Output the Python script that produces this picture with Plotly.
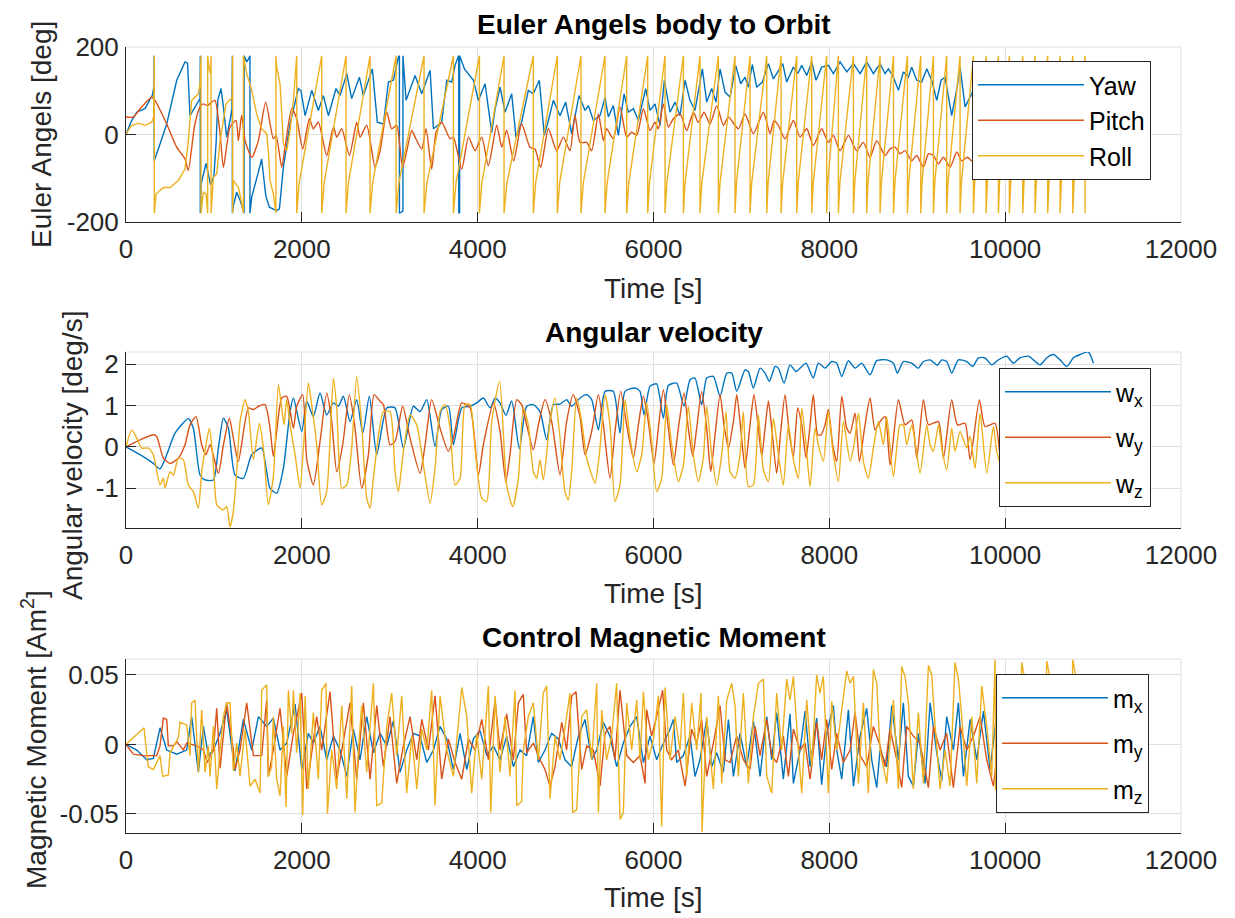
import plotly.graph_objects as go

# ---------------- data ----------------
TIME_TICKS = [0, 2000, 4000, 6000, 8000, 10000, 12000]

YAW = [(0, 0), (60, 30), (122, 51), (216, 59), (300, 90), (318, 110), (320, 180), (321, -60), (390, -20), (463, 24),
       (577, 124), (671, 166), (700, 163), (728, 43), (842, 82), (845, 180), (845, -180), (855, -113), (910, -66),
       (963, -115), (1000, -95), (1025, -20), (1045, 80), (1081, 105), (1110, 60), (1145, -6), (1183, 32), (1205, 60),
       (1210, 180), (1210, -180), (1221, -163), (1259, -132), (1297, -150), (1340, -175), (1343, -180), (1343, 180),
       (1373, 166), (1400, 175), (1410, 180), (1410, -180), (1430, -143), (1500, -90), (1543, -56), (1590, -140),
       (1631, -166), (1714, -174), (1745, -170), (1790, -75), (1866, 24), (1960, 105), (1990, 100), (2037, 43),
       (2113, 101), (2188, 55), (2245, 89), (2302, 43), (2389, 105), (2435, 89), (2511, 139), (2567, 82), (2655, 131),
       (2700, 89), (2802, 150), (2859, 28), (2928, 24), (2985, 120), (3041, 124), (3098, 177), (3110, 180),
       (3110, -180), (3150, -175), (3150, 180), (3186, 78),
       (3288, 135), (3364, 93), (3459, 147), (3497, 13), (3591, 28), (3648, 124), (3705, 120), (3743, 158),
       (3781, 179), (3785, 180), (3785, -180), (3795, -178), (3795, 180), (3850, 150), (3952, 124), (4008, 78),
       (4084, 116), (4141, 36), (4160, 5), (4200, 60), (4255, 108), (4311, 51), (4387, 93), (4436, -6), (4500, 28),
       (4576, 101), (4633, 93), (4701, 124), (4758, -2), (4804, 32), (4861, 78), (4937, 43), (5001, 74), (5069, 2),
       (5153, 89), (5221, 55), (5259, 66), (5316, 32), (5392, 43), (5449, 85), (5486, 40), (5543, 66), (5600, -2),
       (5665, 93), (5714, 51), (5771, 59), (5828, 32), (5911, 105), (5960, 55), (6017, 70), (6074, 21), (6123, 124),
       (6188, 51), (6245, 74), (6302, 43), (6359, 124), (6415, 78), (6472, 55), (6556, 150), (6605, 74), (6662, 105),
       (6711, 74), (6757, 150), (6814, 97), (6871, 85), (6935, 158), (6992, 116), (7041, 131), (7079, 108),
       (7124, 160), (7174, 108), (7238, 120), (7307, 162), (7364, 127), (7409, 143), (7470, 162), (7515, 120),
       (7591, 154), (7640, 139), (7686, 158), (7743, 135), (7800, 166), (7849, 124), (7913, 154), (7989, 158),
       (8046, 139), (8122, 166), (8198, 143), (8274, 162), (8350, 139), (8425, 166), (8501, 139), (8577, 162),
       (8634, 139), (8672, 150), (8729, 131), (8786, 101), (8842, 143), (8899, 131), (8937, 154), (8994, 124),
       (9051, 120), (9108, 150), (9165, 124), (9222, 78), (9271, 124), (9316, 131), (9392, 43), (9457, 112),
       (9487, 154), (9544, 63), (9620, 93), (9700, 140), (9800, 100), (9900, 145), (10000, 90), (10150, 140),
       (10300, 100), (10450, 145), (10600, 105), (10750, 140), (10900, 110), (11000, 130)]

PITCH = [(0, 40), (84, 40), (160, 59), (292, 85), (330, 78), (463, 24), (577, -29), (671, -56), (709, -82), (780, 20),
         (842, 63), (880, 70), (925, 66), (975, 74), (1013, 78), (1070, 2), (1108, -75), (1183, 17), (1252, 32),
         (1278, -14), (1316, 44), (1354, -14), (1430, -52), (1506, -14), (1589, 74), (1676, -10), (1707, -2),
         (1771, -75), (1809, -29), (1885, 59), (1942, 36), (2010, -33), (2086, 36), (2131, 13), (2188, 28),
         (2283, -48), (2359, 17), (2397, -6), (2454, 13), (2541, -48), (2624, 28), (2662, -6), (2738, 21),
         (2833, -75), (2890, -37), (2966, 51), (3022, 13), (3079, 21), (3147, -75), (3250, 9), (3288, -6),
         (3364, -33), (3413, 13), (3477, -79), (3527, 5), (3591, 28), (3686, -10), (3724, -6), (3819, -79),
         (3895, -6), (3970, -37), (4046, -6), (4122, -71), (4217, 21), (4274, -29), (4330, 10), (4410, -60),
         (4500, 24), (4595, -29), (4652, -33), (4717, -75), (4804, 13), (4899, -37), (4975, -6), (5050, -37),
         (5107, 44), (5164, -18), (5240, -18), (5297, -37), (5373, 47), (5430, -14), (5467, 13), (5543, -10),
         (5619, 63), (5695, -6), (5752, 5), (5809, -2), (5885, 59), (5960, 9), (6017, 28), (6055, 13), (6112, 70),
         (6169, 17), (6226, 36), (6302, 47), (6378, 9), (6453, 51), (6510, 28), (6575, 51), (6643, 24), (6719, 66),
         (6795, 21), (6852, 40), (6965, 13), (7041, 47), (7136, 2), (7250, 51), (7326, 2), (7371, 32), (7420, 21),
         (7496, -10), (7591, 32), (7667, -6), (7743, 13), (7818, -25), (7913, 13), (7989, -18), (8046, -2),
         (8122, -37), (8217, -2), (8311, -37), (8387, -18), (8463, -52), (8539, -14), (8634, -48), (8691, -33),
         (8748, -29), (8805, -44), (8861, -37), (8937, -60), (8994, -48), (9070, -75), (9127, -44), (9184, -48),
         (9241, -67), (9298, -52), (9373, -75), (9449, -40), (9506, -60), (9571, -52), (9620, -60), (9700, -55),
         (9800, -70), (9900, -60), (10000, -75), (10200, -65), (10400, -78), (10600, -68), (10800, -80),
         (11000, -72)]

ROLL = [(0, 0), (60, 20), (141, 26), (216, 21), (292, 28), (315, 40), (322, 180), (322, -180), (342, -136),
        (425, -121), (501, -121), (596, -105), (671, -79), (709, -14), (747, 78), (823, 93), (845, 120), (853, 180),
        (853, -180), (880, -132), (910, -136), (929, -180), (929, 180), (948, 147), (963, 139), (968, 180),
        (968, -180), (994, -98), (1032, -90), (1070, -14), (1138, 70), (1183, 78), (1210, 85), (1213, 180),
        (1213, -180), (1221, -105), (1278, -121), (1300, -140), (1335, -180), (1335, 180), (1373, 139), (1430, 101),
        (1486, 47), (1543, 13), (1600, 2), (1619, -37), (1638, -105), (1676, -136), (1705, -180), (1705, 180),
        (1714, 154), (1752, 116), (1771, 50), (1790, -21), (1828, -37), (1866, 9), (1904, 78),
        (1942, 180), (1942, -180), (1970, -110), (2226, 180), (2226, -180), (2254, -110),
        (2503, 180), (2503, -180), (2530, -110), (2776, 180), (2776, -180), (2806, -110),
        (3072, 180), (3072, -180), (3104, -110), (3390, 180), (3390, -180), (3423, -110),
        (3724, 180), (3724, -180), (3754, -110), (4020, 180), (4020, -180), (4048, -110),
        (4300, 180), (4300, -180), (4333, -110), (4633, 180), (4633, -180), (4660, -110),
        (4906, 180), (4906, -180), (4933, -110), (5175, 180), (5175, -180), (5202, -110),
        (5448, 180), (5448, -180), (5473, -110), (5695, 180), (5695, -180), (5719, -110),
        (5934, 180), (5934, -180), (5954, -110), (6131, 180), (6131, -180), (6152, -110),
        (6340, 180), (6340, -180), (6359, -110), (6529, 180), (6529, -180), (6550, -110),
        (6738, 180), (6738, -180), (6757, -110), (6927, 180), (6927, -180), (6944, -110),
        (7098, 180), (7098, -180), (7117, -110), (7288, 180), (7288, -180), (7304, -110),
        (7451, 180), (7451, -180), (7469, -110), (7629, 180), (7629, -180), (7646, -110),
        (7800, 180), (7800, -180), (7817, -110), (7970, 180), (7970, -180), (7983, -110),
        (8103, 180), (8103, -180), (8120, -110), (8274, 180), (8274, -180), (8289, -110),
        (8425, 180), (8425, -180), (8440, -110), (8577, 180), (8577, -180), (8592, -110),
        (8730, 180), (8730, -180), (8746, -110), (8888, 180), (8888, -180), (8903, -110),
        (9040, 180), (9040, -180), (9054, -110), (9184, 180), (9184, -180), (9199, -110),
        (9335, 180), (9335, -180), (9350, -110), (9487, 180), (9487, -180), (9502, -110),
        (9639, 180), (9639, -180), (9653, -110), (9783, 180), (9783, -180), (9797, -110),
        (9923, 180), (9923, -180), (9936, -110), (10048, 180), (10048, -180), (10063, -110),
        (10200, 180), (10200, -180), (10214, -110), (10340, 180), (10340, -180), (10354, -110),
        (10484, 180), (10484, -180), (10498, -110), (10625, 180), (10625, -180), (10639, -110),
        (10769, 180), (10769, -180), (10783, -110), (10909, 180), (10909, -180)]

WX = [(0, 0), (160, -0.19), (311, -0.40), (387, -0.53), (463, -0.19), (558, 0.33), (709, 0.68), (766, 0.45),
      (842, -0.68), (899, -0.80), (994, -0.80), (1051, -0.03), (1108, 0.69), (1165, 0.45), (1240, -0.68),
      (1335, -0.76), (1430, -0.19), (1544, -0.03), (1638, -1.0), (1714, -1.12), (1790, -0.52), (1866, 0.85),
      (1904, 1.18), (1999, 0.37), (2056, 1.10), (2131, 0.73), (2207, 1.30), (2283, 0.77), (2359, 1.06),
      (2416, 0.98), (2473, 1.22), (2548, 0.61), (2624, 1.14), (2693, 0.33), (2768, 1.22), (2852, -0.19),
      (2966, 0.94), (3060, 0.94), (3155, -0.03), (3269, 0.98), (3345, 0.85), (3421, 1.14), (3515, 0.01),
      (3591, 0.90), (3667, 0.98), (3724, 0.05), (3819, 0.94), (3914, 0.98), (3989, 1.06), (4065, 1.18),
      (4141, 0.94), (4198, 1.18), (4254, 1.06), (4322, 0.76), (4387, 1.11), (4474, -0.05), (4557, 0.98),
      (4633, 1.02), (4709, 0.85), (4785, 0.17), (4861, 1.02), (4937, 1.03), (5012, 1.14), (5069, 0.98),
      (5164, 1.18), (5240, 1.26), (5297, 1.14), (5373, 0.41), (5449, 1.34), (5543, 1.34), (5619, 0.33),
      (5676, 1.34), (5790, 1.42), (5847, 1.34), (5892, 0.77), (5960, 1.46), (6036, 1.52), (6112, 0.69),
      (6169, 1.48), (6264, 1.54), (6347, 0.98), (6415, 1.62), (6472, 1.66), (6548, 1.02), (6605, 1.66),
      (6681, 1.70), (6757, 1.22), (6833, 1.78), (6890, 1.78), (6947, 1.34), (7041, 1.86), (7079, 1.82),
      (7136, 1.42), (7212, 1.90), (7269, 1.78), (7318, 1.58), (7383, 1.94), (7420, 1.90), (7485, 1.54),
      (7553, 1.98), (7621, 1.82), (7686, 1.94), (7735, 2.02), (7818, 1.66), (7875, 2.02), (7951, 1.90),
      (8027, 2.06), (8084, 2.02), (8141, 1.70), (8217, 2.08), (8293, 1.90), (8368, 2.02), (8463, 1.74),
      (8539, 2.08), (8653, 2.10), (8729, 2.02), (8774, 1.78), (8842, 2.06), (8937, 2.02), (9013, 1.90),
      (9070, 2.06), (9146, 2.10), (9229, 1.97), (9279, 2.10), (9335, 2.06), (9392, 1.78), (9468, 2.10),
      (9563, 2.06), (9631, 1.94), (9695, 2.15), (9771, 2.15), (9847, 1.98), (9923, 2.10), (10018, 2.19),
      (10093, 2.02), (10169, 2.15), (10264, 2.19), (10321, 2.10), (10397, 1.98), (10473, 2.15), (10549, 2.23),
      (10625, 2.10), (10700, 1.94), (10776, 2.15), (10852, 2.23), (10947, 2.29), (11004, 2.02)]

WY = [(0, 0), (160, 0.17), (311, 0.29), (349, 0.25), (425, -0.27), (501, -0.40), (596, -0.27), (671, 0.05),
      (728, 0.53), (797, 0.73), (861, 0.05), (910, -0.19), (956, 0.05), (1051, -0.64), (1108, 0.05), (1176, 0.69),
      (1221, 0.21), (1278, -0.35), (1392, 0.94), (1449, 0.90), (1506, 0.98), (1582, 1.02), (1638, 0.45),
      (1676, -0.23), (1714, 0.37), (1771, 1.18), (1828, 1.22), (1904, 0.45), (1942, 0.98), (2010, 1.26),
      (2056, -0.31), (2131, -0.92), (2207, 0.13), (2283, 1.30), (2340, 0.61), (2397, -0.60), (2465, 0.05),
      (2541, 1.26), (2605, 0.45), (2681, -1.0), (2757, -0.19), (2822, 1.26), (2890, 1.10), (2928, 1.02),
      (3003, 0.05), (3060, 0.13), (3147, 0.98), (3231, 0.21), (3345, -0.64), (3402, 0.05), (3477, 1.14),
      (3572, 0.45), (3667, -0.11), (3724, 0.21), (3819, 1.06), (3914, 0.94), (4008, -0.68), (4065, 0.05),
      (4179, 1.06), (4255, 0.37), (4320, -0.84), (4368, -0.19), (4444, 1.14), (4500, 1.02), (4557, 0.53),
      (4633, -0.07), (4690, 0.53), (4766, 1.14), (4842, 0.61), (4937, -0.68), (5012, 0.61), (5088, 1.26),
      (5164, 0.73), (5221, -0.19), (5297, 0.37), (5373, 1.26), (5430, 0.53), (5505, -0.76), (5562, 0.37),
      (5627, 1.34), (5695, 0.53), (5771, -0.27), (5828, 0.53), (5885, 1.22), (5941, 0.61), (6006, -0.40),
      (6055, 0.45), (6112, 1.38), (6169, 0.45), (6226, -0.44), (6283, 0.45), (6347, 1.30), (6396, 0.45),
      (6446, -0.23), (6491, 0.45), (6548, 1.34), (6605, 0.45), (6651, -0.60), (6700, 0.29), (6757, 1.26),
      (6802, 0.53), (6852, -0.03), (6909, 0.61), (6947, 1.26), (6992, 0.45), (7041, -0.52), (7098, 0.53),
      (7143, 1.26), (7193, 0.45), (7231, -0.23), (7269, 0.45), (7307, 1.11), (7345, 0.45), (7401, -0.64),
      (7447, 0.37), (7496, 1.26), (7546, 0.29), (7591, -0.23), (7640, 0.94), (7686, 0.53), (7735, -0.27),
      (7781, 0.53), (7818, 1.26), (7868, 0.29), (7906, 0.29), (7951, 0.53), (7989, 0.90), (8038, 0.05),
      (8084, -0.35), (8141, 1.22), (8198, 0.45), (8236, 0.33), (8293, 0.81), (8342, -0.35), (8406, 0.53),
      (8463, 1.18), (8520, 0.41), (8577, 0.61), (8634, 0.73), (8691, -0.44), (8786, 1.14), (8861, 0.53),
      (8937, 0.65), (8994, -0.27), (9070, 1.14), (9127, 0.53), (9241, 0.61), (9298, -0.27), (9392, 1.14),
      (9457, 0.53), (9544, 0.57), (9601, -0.31), (9707, 1.14), (9771, 0.49), (9885, 0.57), (9950, -0.3),
      (10030, 1.1), (10100, 0.5), (10200, 0.5), (10260, -0.3), (10350, 1.1), (10420, 0.5), (10520, 0.5),
      (10580, -0.3), (10680, 1.1), (10750, 0.5), (10850, 0.5), (10920, -0.3), (11000, 0.6)]

WZ = [(0, 0), (65, 0.41), (122, 0.21), (179, -0.03), (254, -0.03), (311, -0.19), (387, -0.92), (425, -0.76),
      (444, -1.0), (501, -0.60), (539, -0.68), (596, -0.27), (652, -0.31), (709, -0.92), (766, -1.08),
      (823, -1.48), (861, -0.60), (910, 0.05), (948, 0.45), (986, -0.19), (1032, -1.40), (1070, -1.48),
      (1108, -1.52), (1145, -1.44), (1183, -1.93), (1221, -1.56), (1259, -0.60), (1297, 0.61), (1354, 1.14),
      (1392, 0.85), (1449, -0.31), (1517, 0.57), (1563, -0.03), (1619, -1.40), (1676, -0.72), (1733, 1.50),
      (1771, 0.94), (1798, 0.53), (1828, 1.14), (1866, 0.53), (1923, -0.19), (1980, -1.0), (2025, 0.21),
      (2074, 1.54), (2112, 1.02), (2169, 0.05), (2226, -1.40), (2283, -1.08), (2359, 1.66), (2397, 0.94),
      (2454, -1.0), (2511, -0.92), (2567, -0.03), (2624, 1.70), (2681, 0.53), (2738, -1.24), (2776, -1.48),
      (2814, -0.76), (2928, 0.85), (3003, 0.85), (3060, -0.60), (3098, -1.08), (3155, -0.11), (3231, 0.77),
      (3307, 0.53), (3383, -0.44), (3459, -1.36), (3515, -0.52), (3572, 0.85), (3629, 1.02), (3686, 0.45),
      (3743, -0.92), (3800, -0.76), (3857, 1.02), (3914, 1.02), (3970, -0.03), (4046, -1.24), (4103, -1.32),
      (4160, 0.61), (4250, 1.58), (4330, -0.92), (4398, -1.44), (4463, -0.76), (4519, 0.94), (4576, 0.53),
      (4633, -0.60), (4671, -0.76), (4709, -0.31), (4747, -0.80), (4823, 0.61), (4880, 1.18), (4937, 0.21),
      (4993, -1.08), (5031, -1.28), (5069, -0.60), (5126, 1.18), (5183, 0.61), (5240, -0.27), (5285, -0.60),
      (5335, -0.88), (5384, -0.19), (5449, 1.26), (5505, 0.53), (5562, -1.32), (5619, -0.92), (5676, 1.14),
      (5733, 0.21), (5809, -0.60), (5866, -0.19), (5922, 1.06), (5979, 0.13), (6036, -1.08), (6093, -0.76),
      (6150, 1.02), (6207, 0.05), (6283, -0.84), (6340, -0.44), (6396, 0.98), (6453, -0.19), (6510, -0.84),
      (6567, -0.27), (6605, 0.98), (6662, -0.19), (6719, -0.92), (6776, -0.19), (6825, 0.85), (6871, -0.60),
      (6927, -0.76), (6984, -0.19), (7022, 0.85), (7079, -0.96), (7136, -0.92), (7193, 0.77), (7250, -0.56),
      (7307, -0.84), (7364, 0.69), (7420, -0.19), (7477, -0.92), (7534, 0.53), (7591, -0.31), (7648, -0.76),
      (7686, 0.94), (7735, 0.05), (7781, -0.96), (7837, 0.45), (7875, 0.05), (7932, -0.35), (7989, 0.85),
      (8046, -0.19), (8103, -0.84), (8160, 0.61), (8236, -0.35), (8281, 0.05), (8331, 0.81), (8387, -0.35),
      (8444, -0.76), (8501, -0.03), (8558, 0.61), (8615, 0.05), (8653, 0.73), (8729, -0.72), (8804, 0.53),
      (8842, 0.53), (8880, 0.05), (8937, 0.53), (8975, 0.13), (9032, -0.64), (9108, 0.53), (9146, 0.05),
      (9184, -0.11), (9241, 0.53), (9279, -0.03), (9335, -0.56), (9392, 0.45), (9430, -0.11), (9487, 0.37),
      (9563, -0.03), (9601, 0.25), (9658, -0.52), (9715, 0.81), (9790, -0.64), (9866, 0.49), (9904, -0.11),
      (9980, -0.6), (10060, 0.6), (10150, -0.1), (10240, -0.6), (10330, 0.6), (10420, -0.1), (10510, -0.6),
      (10600, 0.6), (10700, -0.1), (10800, -0.6), (10900, 0.5), (11000, 0.0)]

MX = [(0, 0), (122, -0.004), (235, -0.011), (311, -0.010), (387, 0.012), (463, -0.004), (577, -0.007),
      (690, -0.004), (747, 0.020), (823, -0.020), (880, 0.013), (937, -0.008), (994, -0.004), (1070, 0.008),
      (1145, 0.025), (1240, -0.019), (1335, 0.018), (1430, -0.004), (1506, 0.020), (1600, 0.013), (1676, 0.019),
      (1752, -0.004), (1828, 0.001), (1923, 0.029), (1999, -0.018), (2074, 0.008), (2131, 0.001), (2207, 0.013),
      (2283, -0.011), (2359, 0.006), (2435, -0.004), (2511, -0.023), (2586, 0.011), (2662, -0.011),
      (2738, 0.020), (2814, -0.006), (2890, 0.008), (2966, -0.001), (3041, 0.017), (3117, -0.020),
      (3193, -0.004), (3269, 0.008), (3345, 0.006), (3421, -0.013), (3497, -0.004), (3572, 0.013),
      (3648, 0.004), (3724, -0.018), (3800, 0.008), (3876, -0.018), (3951, 0.004), (4027, 0.010),
      (4103, -0.008), (4179, -0.001), (4254, -0.011), (4330, 0.006), (4406, -0.016), (4482, -0.004),
      (4557, -0.008), (4633, 0.020), (4690, -0.013), (4766, -0.004), (4842, 0.008), (4918, 0.004),
      (4993, -0.011), (5069, -0.016), (5145, 0.006), (5221, 0.018), (5297, -0.011), (5354, -0.004),
      (5430, 0.016), (5505, 0.006), (5581, -0.016), (5657, 0.001), (5733, 0.013), (5809, 0.020),
      (5885, -0.013), (5960, 0.006), (6036, -0.011), (6112, 0.001), (6188, 0.011), (6226, 0.018),
      (6264, -0.013), (6340, -0.008), (6415, 0.006), (6472, -0.023), (6529, -0.011), (6605, 0.018),
      (6662, -0.016), (6719, -0.006), (6795, -0.020), (6852, 0.018), (6909, -0.023), (6984, 0.008),
      (7060, -0.016), (7136, 0.017), (7212, -0.023), (7288, 0.020), (7345, -0.011), (7401, 0.023),
      (7477, -0.025), (7553, 0.022), (7591, -0.028), (7667, -0.004), (7724, 0.024), (7781, -0.016),
      (7856, 0.019), (7913, -0.029), (7970, 0.008), (8046, 0.028), (8084, -0.004), (8141, -0.025),
      (8217, 0.025), (8274, -0.030), (8350, 0.006), (8425, 0.026), (8482, -0.011), (8539, -0.031),
      (8577, -0.004), (8653, -0.016), (8710, 0.028), (8786, -0.011), (8842, 0.030), (8899, -0.023),
      (8956, -0.030), (9013, 0.008), (9089, -0.028), (9146, 0.030), (9222, -0.006), (9279, -0.026),
      (9335, 0.020), (9411, -0.004), (9468, 0.030), (9525, -0.023), (9601, 0.018), (9677, -0.011),
      (9753, 0.024), (9828, -0.018), (9900, 0.02), (10000, -0.025), (10100, 0.025), (10200, -0.02),
      (10300, 0.025), (10400, -0.025), (10500, 0.02), (10600, -0.025), (10700, 0.025), (10800, -0.02),
      (10900, 0.02), (11000, 0.0)]

MY = [(0, 0), (84, -0.007), (197, -0.008), (349, -0.008), (387, -0.001), (425, 0.019), (463, 0.018),
      (482, -0.001), (539, -0.001), (577, 0.002), (652, -0.004), (690, 0.001), (804, -0.001), (880, -0.004),
      (925, -0.013), (994, -0.004), (1032, 0.026), (1070, -0.017), (1145, 0.030), (1221, -0.004),
      (1240, -0.018), (1297, -0.004), (1373, 0.030), (1449, -0.008), (1544, -0.008), (1600, 0.032),
      (1619, -0.023), (1676, -0.004), (1752, 0.026), (1828, -0.023), (1904, 0.008), (1999, 0.037),
      (2056, -0.032), (2112, -0.006), (2169, 0.020), (2226, -0.004), (2321, 0.038), (2397, -0.025),
      (2454, -0.004), (2548, 0.030), (2624, -0.025), (2700, 0.030), (2776, -0.025), (2852, 0.028),
      (2928, -0.016), (3003, 0.020), (3079, -0.028), (3155, -0.001), (3231, 0.020), (3307, -0.011),
      (3364, 0.018), (3440, -0.004), (3515, 0.035), (3591, -0.025), (3667, 0.004), (3743, -0.013),
      (3819, -0.025), (3895, 0.004), (3970, -0.004), (4046, 0.018), (4122, -0.011), (4198, 0.032),
      (4254, -0.004), (4330, 0.022), (4406, -0.011), (4463, 0.030), (4519, 0.036), (4557, -0.006),
      (4633, 0.001), (4709, -0.011), (4766, -0.018), (4823, -0.030), (4880, -0.016), (4956, 0.016),
      (5012, -0.004), (5069, 0.035), (5119, 0.038), (5183, -0.018), (5240, -0.001), (5316, -0.004),
      (5392, -0.030), (5449, 0.008), (5505, 0.013), (5562, -0.011), (5619, 0.039), (5695, -0.008),
      (5771, -0.013), (5847, -0.008), (5904, -0.028), (5922, 0.025), (5979, 0.006), (6036, 0.020),
      (6104, 0.039), (6150, -0.004), (6207, -0.011), (6283, -0.004), (6359, -0.030), (6434, 0.011),
      (6491, 0.001), (6548, 0.018), (6605, -0.023), (6681, 0.001), (6757, 0.028), (6814, -0.011),
      (6871, -0.013), (6946, 0.006), (7022, -0.011), (7098, -0.018), (7155, 0.013), (7212, -0.008),
      (7288, 0.018), (7345, -0.008), (7401, -0.013), (7477, 0.006), (7534, -0.023), (7591, 0.011),
      (7667, -0.004), (7724, 0.001), (7781, -0.025), (7856, 0.016), (7913, -0.011), (7970, 0.018),
      (8027, -0.018), (8084, 0.008), (8160, -0.013), (8236, -0.004), (8293, 0.023), (8350, -0.008),
      (8425, -0.016), (8501, 0.013), (8577, -0.001), (8634, -0.016), (8691, 0.011), (8767, -0.011),
      (8823, -0.031), (8880, 0.013), (8956, 0.006), (9032, 0.001), (9127, -0.031), (9184, 0.013),
      (9260, -0.004), (9335, 0.008), (9411, -0.031), (9487, 0.013), (9563, -0.004), (9639, 0.006),
      (9715, 0.020), (9790, -0.011), (9866, -0.030), (9950, 0.015), (10050, -0.03), (10150, 0.015),
      (10250, -0.03), (10350, 0.015), (10450, -0.03), (10550, 0.015), (10650, -0.03), (10750, 0.015),
      (10850, -0.03), (11000, 0.0)]

MZ = [(0, 0), (103, 0.006), (205, 0.012), (216, 0.005), (254, -0.016), (311, -0.018), (387, -0.008),
      (417, -0.023), (482, -0.022), (501, -0.006), (596, 0.005), (615, 0.016), (690, 0.014), (728, -0.008),
      (747, 0.030), (785, 0.032), (823, -0.020), (861, 0.025), (899, -0.020), (937, -0.001), (956, -0.023),
      (994, 0.013), (1032, -0.032), (1070, -0.004), (1108, 0.020), (1145, 0.030), (1183, 0.030),
      (1221, -0.019), (1259, 0.001), (1297, -0.023), (1354, 0.011), (1411, -0.030), (1468, -0.025),
      (1525, -0.035), (1544, 0.039), (1600, 0.043), (1619, -0.023), (1657, -0.016), (1676, 0.020),
      (1714, -0.025), (1752, -0.037), (1790, 0.013), (1820, -0.045), (1847, 0.039), (1885, 0.008),
      (1904, 0.039), (1942, -0.006), (1980, 0.037), (2010, -0.051), (2037, 0.035), (2074, -0.032),
      (2131, 0.023), (2188, -0.025), (2226, 0.039), (2275, 0.044), (2291, -0.050), (2340, -0.004),
      (2397, -0.032), (2454, 0.028), (2511, -0.039), (2567, 0.042), (2605, -0.049), (2643, -0.004),
      (2681, 0.028), (2738, -0.020), (2814, 0.044), (2852, -0.044), (2909, -0.042), (2966, 0.013),
      (3022, 0.037), (3079, -0.008), (3136, 0.035), (3193, -0.035), (3250, 0.006), (3307, -0.032),
      (3364, 0.011), (3421, -0.004), (3477, 0.039), (3515, -0.044), (3572, 0.035), (3648, -0.004),
      (3724, -0.023), (3819, 0.041), (3876, 0.020), (3932, -0.035), (3989, 0.008), (4046, -0.025),
      (4122, 0.042), (4149, -0.049), (4198, 0.035), (4254, -0.020), (4311, 0.020), (4368, -0.023),
      (4425, 0.039), (4444, -0.044), (4500, -0.041), (4519, -0.004), (4576, 0.020), (4633, 0.030),
      (4690, -0.011), (4747, 0.037), (4785, 0.042), (4823, -0.039), (4880, 0.006), (4937, -0.011),
      (5012, 0.020), (5050, 0.037), (5081, -0.049), (5126, -0.047), (5183, 0.020), (5240, 0.025),
      (5297, -0.011), (5354, 0.044), (5373, -0.049), (5411, 0.025), (5467, -0.011), (5524, 0.006),
      (5581, 0.044), (5619, -0.054), (5657, -0.049), (5695, 0.030), (5752, -0.004), (5809, 0.032),
      (5847, -0.011), (5885, 0.038), (5941, -0.011), (6000, 0.004), (6055, 0.035), (6093, -0.059),
      (6131, 0.041), (6188, -0.011), (6245, 0.020), (6302, -0.004), (6340, 0.037), (6378, -0.023),
      (6434, 0.030), (6491, -0.004), (6541, 0.037), (6552, -0.063), (6605, 0.020), (6681, -0.032),
      (6738, 0.035), (6776, -0.028), (6833, 0.032), (6890, 0.044), (6927, 0.028), (6965, -0.023),
      (7022, 0.037), (7079, -0.028), (7136, 0.020), (7193, 0.044), (7250, 0.047), (7288, -0.023),
      (7345, -0.035), (7401, 0.037), (7458, -0.004), (7515, 0.047), (7553, 0.032), (7591, 0.049),
      (7648, -0.004), (7686, -0.035), (7743, 0.032), (7800, -0.016), (7856, 0.050), (7894, 0.037),
      (7932, 0.049), (7989, -0.035), (8027, 0.031), (8084, -0.004), (8141, 0.025), (8198, 0.053),
      (8236, 0.044), (8274, 0.049), (8331, -0.028), (8387, 0.030), (8444, -0.035), (8501, 0.054),
      (8539, 0.044), (8577, -0.004), (8653, -0.028), (8729, 0.032), (8786, -0.032), (8823, 0.056),
      (8861, 0.049), (8899, 0.030), (8956, -0.032), (9013, 0.023), (9070, -0.028), (9127, 0.057),
      (9165, 0.050), (9203, 0.013), (9260, -0.032), (9316, -0.004), (9373, -0.030), (9430, 0.059),
      (9468, 0.047), (9506, 0.020), (9563, -0.030), (9620, 0.020), (9677, -0.028), (9734, 0.042),
      (9790, 0.013), (9847, -0.023), (9885, 0.061), (9890, -0.033), (9950, 0.01), (10020, -0.03),
      (10100, 0.02), (10150, -0.03), (10188, 0.059), (10220, 0.048), (10280, 0.01), (10330, -0.03),
      (10400, 0.02), (10440, -0.03), (10473, 0.060), (10510, 0.048), (10570, 0.0), (10630, -0.03),
      (10700, 0.02), (10740, -0.03), (10769, 0.061), (10800, 0.05), (10860, 0.0), (10920, -0.03),
      (11000, 0.0)]

# ---------------- styling ----------------
W, H = 1235, 918
FONT = "Liberation Sans, Arial, Helvetica, sans-serif"
AX = "#262626"
GRID = "#DFDFDF"
BLUE, RED, YEL = "#0072BD", "#D95319", "#EDB120"

X0, X1 = 126, 1181
PANELS = [(47, 222), (352, 528), (659, 833)]


def px(x):
    return x / W


def py(y):
    return 1 - y / H


fig = go.Figure()


def add(series, name, color, k, shape="linear"):
    t, v = zip(*series)
    sfx = "" if k == 1 else str(k)
    fig.add_trace(go.Scatter(
        x=list(t), y=list(v), mode="lines", name=name, legendgroup=name,
        line=dict(color=color, width=1.4, shape=shape, smoothing=0.6 if shape == "spline" else None),
        xaxis="x" + sfx, yaxis="y" + sfx, legend="legend" + sfx, hoverinfo="skip"))


add(YAW, "Yaw", BLUE, 1)
add(PITCH, "Pitch", RED, 1, "spline")
add(ROLL, "Roll", YEL, 1)
add(WX, "w<sub>x</sub>", BLUE, 2, "spline")
add(WY, "w<sub>y</sub>", RED, 2, "spline")
add(WZ, "w<sub>z</sub>", YEL, 2, "spline")
add(MX, "m<sub>x</sub>", BLUE, 3)
add(MY, "m<sub>y</sub>", RED, 3)
add(MZ, "m<sub>z</sub>", YEL, 3)

tickfont = dict(family=FONT, size=26, color=AX)
Y_RANGES = [[-200, 200], [-1.96, 2.29], [-0.0637, 0.0615]]
Y_TICKS = [([-200, 0, 200], ["-200", "0", "200"]),
           ([-1, 0, 1, 2], ["-1", "0", "1", "2"]),
           ([-0.05, 0, 0.05], ["-0.05", "0", "0.05"])]

layout = dict(
    width=W, height=H, margin=dict(l=0, r=0, t=0, b=0, pad=0),
    paper_bgcolor="white", plot_bgcolor="white", template="none",
    font=dict(family=FONT, color=AX), showlegend=True,
)
shapes = []
for i, (top, bot) in enumerate(PANELS):
    sfx = "" if i == 0 else str(i + 1)
    layout["xaxis" + sfx] = dict(
        domain=[px(X0), px(X1)], range=[0, 12000], tickvals=TIME_TICKS, tickformat="d",
        anchor="y" + sfx, showgrid=True, gridcolor=GRID, gridwidth=1, zeroline=False,
        showline=True, linecolor=AX, linewidth=1, ticks="inside", ticklen=10, tickcolor=AX,
        tickfont=tickfont, automargin=False, ticklabelstandoff=4, fixedrange=True)
    tv, tt = Y_TICKS[i]
    layout["yaxis" + sfx] = dict(
        domain=[py(bot), py(top)], range=Y_RANGES[i], tickvals=tv, ticktext=tt,
        anchor="x" + sfx, showgrid=True, gridcolor=GRID, gridwidth=1, zeroline=False,
        showline=True, linecolor=AX, linewidth=1, ticks="inside", ticklen=10, tickcolor=AX,
        tickfont=tickfont, automargin=False, ticklabelstandoff=1, fixedrange=True)
    shapes.append(dict(type="line", xref="x" + sfx + " domain", yref="y" + sfx + " domain",
                       x0=0, x1=1, y0=1, y1=1, line=dict(color=GRID, width=1), layer="below"))
    shapes.append(dict(type="line", xref="x" + sfx + " domain", yref="y" + sfx + " domain",
                       x0=1, x1=1, y0=0, y1=1, line=dict(color=GRID, width=1), layer="below"))
layout["shapes"] = shapes

leg_common = dict(xanchor="left", yanchor="top", bgcolor="white", bordercolor=AX, borderwidth=1,
                  font=dict(family=FONT, size=25, color="black"), itemwidth=106,
                  itemclick=False, itemdoubleclick=False)
layout["legend"] = dict(x=px(972), y=py(61), tracegroupgap=0, **leg_common)
layout["legend2"] = dict(x=px(999), y=py(368), tracegroupgap=10, **leg_common)
layout["legend3"] = dict(x=px(996), y=py(674), tracegroupgap=10, **leg_common)

titles = [("Euler Angels body to Orbit", 25), ("Angular velocity", 332), ("Control Magnetic Moment", 637)]
ylabels = [("Euler Angels [deg]", 41, 135), ("Angular velocity [deg/s]", 73, 455),
           ("Magnetic Moment [Am<sup>2</sup>]", 34, 740)]
xlabel_y = [288, 593, 897]
ann = []
for (txt, yy) in titles:
    ann.append(dict(text="<b>" + txt + "</b>", x=px((X0 + X1) / 2), y=py(yy), xref="paper", yref="paper",
                    showarrow=False, xanchor="center", yanchor="middle",
                    font=dict(family=FONT, size=28, color="black")))
for yy in xlabel_y:
    ann.append(dict(text="Time [s]", x=px((X0 + X1) / 2), y=py(yy), xref="paper", yref="paper",
                    showarrow=False, xanchor="center", yanchor="middle",
                    font=dict(family=FONT, size=28, color=AX)))
for (txt, xx, yy) in ylabels:
    ann.append(dict(text=txt, x=px(xx), y=py(yy), xref="paper", yref="paper", textangle=-90,
                    showarrow=False, xanchor="center", yanchor="middle",
                    font=dict(family=FONT, size=28, color=AX)))
layout["annotations"] = ann

fig.update_layout(**layout)
fig.write_html("out.html", config={"displayModeBar": False},
               post_script="document.body.style.margin='0';document.body.style.padding='0';"
                           "document.body.style.overflow='hidden';")
